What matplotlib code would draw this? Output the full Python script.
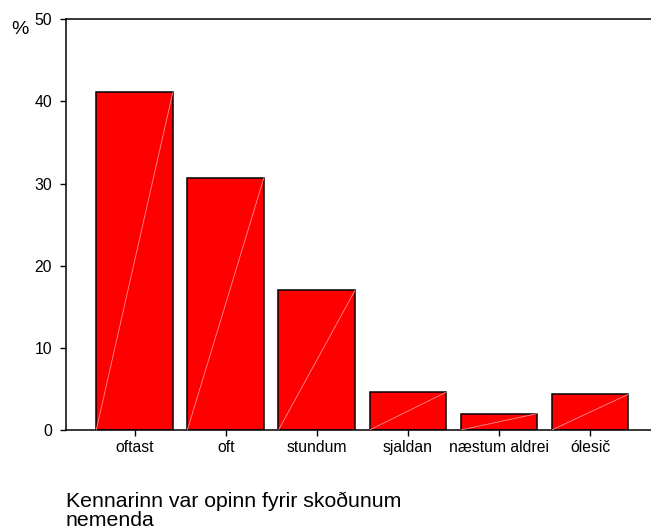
import matplotlib
matplotlib.use("Agg")
import matplotlib.pyplot as plt
import numpy as np

categories = ["oftast", "oft", "stundum", "sjaldan", "næstum aldrei", "ólesič"]
values = [41.1, 30.7, 17.0, 4.6, 2.0, 4.35]
yticks = [0, 10, 20, 30, 40, 50]
caption_lines = ["Kennarinn var opinn fyrir skoðunum", "nemenda"]
ylabel = "%"

plt.rcParams["font.family"] = ["Liberation Sans", "DejaVu Sans"]

W, H = 651, 531
fig = plt.figure(figsize=(W / 100, H / 100), dpi=100)
ax = fig.add_axes([66 / W, (H - 430) / H, 1 - 66 / W + 0.01, (430 - 19.3) / H])

x = np.arange(len(categories))
bw = 0.84
ax.bar(x, values, width=bw, color="#ff0000", edgecolor="black", linewidth=1.1, zorder=2)
for xi, v in zip(x, values):
    ax.plot([xi - bw / 2, xi + bw / 2], [0, v], color="#ff9090", lw=0.6, zorder=3,
            solid_capstyle="butt")

ax.set_xlim(-0.752, 5.67 + 0.07)
ax.set_ylim(0, 50)
ax.set_yticks(yticks)
ax.set_xticks(x)
ax.set_xticklabels(categories)
ax.tick_params(axis="both", labelsize=11.3, length=4, width=1.0, colors="black")
ax.tick_params(axis="y", pad=6)
ax.tick_params(axis="x", pad=3)
for s in ["left", "bottom", "top"]:
    ax.spines[s].set_linewidth(1.1)
    ax.spines[s].set_color("black")
ax.spines["right"].set_visible(False)

fig.text(19.5 / W, 1 - 30 / H, ylabel, ha="center", va="center", fontsize=14)
fig.text(66 / W, 1 - 507 / H, caption_lines[0], ha="left", va="baseline", fontsize=15.3)
fig.text(66 / W, 1 - 526 / H, caption_lines[1], ha="left", va="baseline", fontsize=15.3)

fig.savefig("out.png", dpi=100)
